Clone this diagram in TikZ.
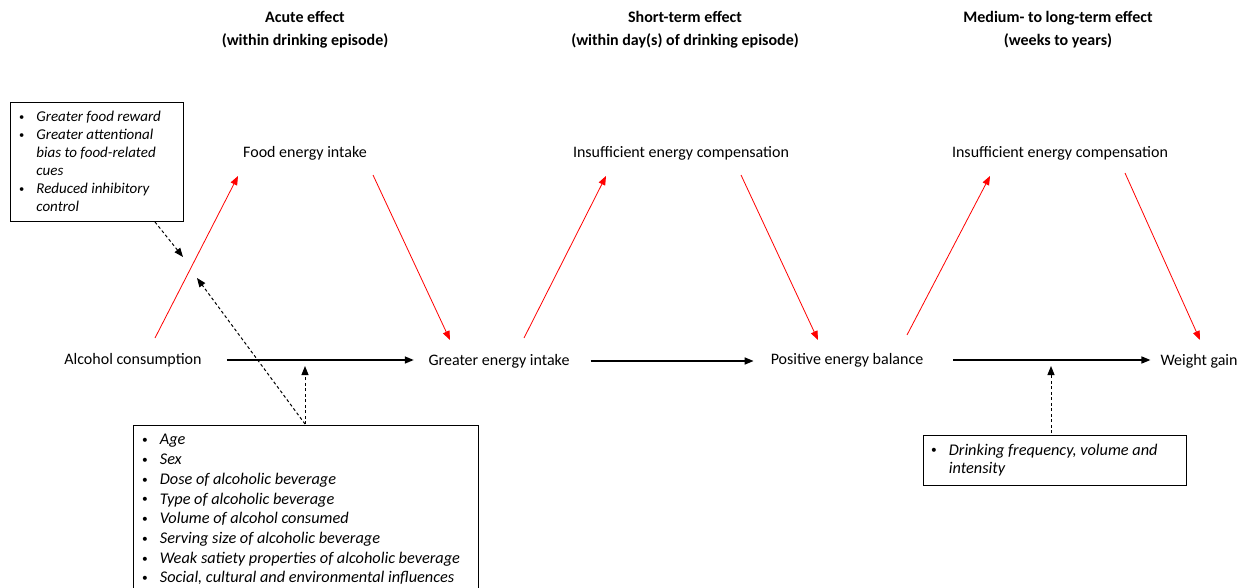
\documentclass[tikz,border=0pt]{standalone}
\usepackage{fontspec}
\setmainfont{Carlito}
\usetikzlibrary{arrows.meta}
\newcommand{\smbul}{\raisebox{0.15ex}{\scalebox{0.7}{\textbullet}}}
\begin{document}
\begin{tikzpicture}[x=1pt,y=-1pt,
  lbl/.style={font=\fontsize{16}{19}\selectfont, inner sep=0pt},
  ttl/.style={font=\fontsize{16}{23}\selectfont\bfseries, align=center, inner sep=0pt},
  mainarr/.style={line width=1.5pt, -{Triangle[length=9pt,width=7pt]}},
  redarr/.style={red, line width=0.8pt, -{Triangle[length=9pt,width=7pt]}},
  modarr/.style={line width=1pt, dash pattern=on 3pt off 2.5pt, -{Triangle[length=9pt,width=7pt]}},
  boxframe/.style={draw, line width=1pt, inner sep=0pt, anchor=north west},
  boxtext/.style={anchor=north west, inner sep=0pt, align=left}
]
\useasboundingbox (0,0) rectangle (1245,588);
\clip (0,0) rectangle (1245,588);
% titles
\node[ttl] (t1) at (305,30) {Acute effect\\(within drinking episode)};
\node[ttl] (t2) at (685,30) {Short-term effect\\(within day(s) of drinking episode)};
\node[ttl] (t3) at (1058,30) {Medium- to long-term effect\\(weeks to years)};
% main nodes
\node[lbl] (alc) at (133,360) {Alcohol consumption};
\node[lbl] (gei) at (499,361) {Greater energy intake};
\node[lbl] (peb) at (847,360) {Positive energy balance};
\node[lbl] (wg) at (1199,361) {Weight gain};
\node[lbl] (fei) at (305,153) {Food energy intake};
\node[lbl] (iec1) at (681,153) {Insufficient energy compensation};
\node[lbl] (iec2) at (1060,153) {Insufficient energy compensation};
% main arrows
\draw[mainarr] (alc.east) ++(25,0) coordinate (a1s) -- ++(187,0) coordinate (a1e);
\draw[mainarr] (gei.east) ++(21,0) coordinate (a2s) -- ++(163,0) coordinate (a2e);
\draw[mainarr] (peb.east) ++(30,0) coordinate (a3s) -- ++(197,0) coordinate (a3e);
% red arrows
\coordinate (r1s) at (155,338); \coordinate (r1e) at (238,176);
\coordinate (r2s) at (373,175); \coordinate (r2e) at (450,340);
\coordinate (r3s) at (524,338); \coordinate (r3e) at (606,176);
\coordinate (r4s) at (741,175); \coordinate (r4e) at (818,340);
\coordinate (r5s) at (907,335); \coordinate (r5e) at (990,176);
\coordinate (r6s) at (1125,173); \coordinate (r6e) at (1200,340);
\draw[redarr] (r1s) -- (r1e);
\draw[redarr] (r2s) -- (r2e);
\draw[redarr] (r3s) -- (r3e);
\draw[redarr] (r4s) -- (r4e);
\draw[redarr] (r5s) -- (r5e);
\draw[redarr] (r6s) -- (r6e);
% top-left box
\node[boxframe, minimum width=173pt, minimum height=119pt] (box1) at (10,102) {};
\node[boxtext, font=\fontsize{15}{18}\selectfont] (box1t) at (19,109) {%
\begin{tabular}{@{}l@{\hspace{12pt}}l@{}}
\smbul & \textit{Greater food reward}\\
\smbul & \textit{Greater attentional}\\
 & \textit{bias to food-related}\\
 & \textit{cues}\\
\smbul & \textit{Reduced inhibitory}\\
 & \textit{control}
\end{tabular}};
% bottom-left box
\node[boxframe, minimum width=345pt, minimum height=200pt] (box2) at (133,425) {};
\node[boxtext, font=\fontsize{16.3}{19.7}\selectfont] (box2t) at (142,431) {%
\begin{tabular}{@{}l@{\hspace{12pt}}l@{}}
\smbul & \textit{Age}\\
\smbul & \textit{Sex}\\
\smbul & \textit{Dose of alcoholic beverage}\\
\smbul & \textit{Type of alcoholic beverage}\\
\smbul & \textit{Volume of alcohol consumed}\\
\smbul & \textit{Serving size of alcoholic beverage}\\
\smbul & \textit{Weak satiety properties of alcoholic beverage}\\
\smbul & \textit{Social, cultural and environmental influences}
\end{tabular}};
% bottom-right box
\node[boxframe, minimum width=263pt, minimum height=50pt] (box3) at (923,435) {};
\node[boxtext, font=\fontsize{16.3}{18.5}\selectfont] (box3t) at (931,442) {%
\begin{tabular}{@{}l@{\hspace{12pt}}l@{}}
\smbul & \textit{Drinking frequency, volume and}\\
 & \textit{intensity}
\end{tabular}};
% moderator arrows
\coordinate (m1s) at (155,222); \coordinate (m1e) at (183,257);
\draw[modarr] (m1s) -- (m1e);
\coordinate (m2s) at (305,424); \coordinate (m2e) at (197,278);
\draw[modarr] (m2s) -- (m2e);
\coordinate (m3e) at (305,366);
\draw[modarr] (m2s) -- (m3e);
\coordinate (m4s) at (1051,433); \coordinate (m4e) at (1051,366);
\draw[modarr] (m4s) -- (m4e);
\end{tikzpicture}
\end{document}
